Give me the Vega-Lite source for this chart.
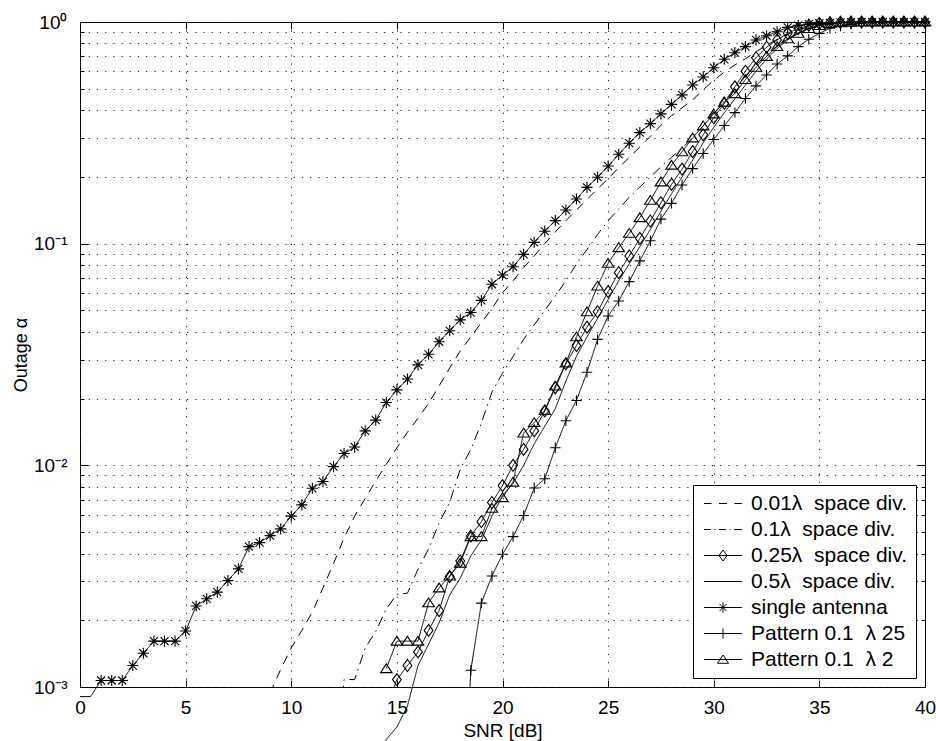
{
  "$schema": "https://vega.github.io/schema/vega-lite/v6.json",
  "width": 845,
  "height": 665,
  "autosize": {"type": "none"},
  "padding": {"left": 80, "top": 22, "right": 11, "bottom": 54},
  "background": "white",
  "config": {
    "view": {"stroke": "black", "strokeWidth": 1},
    "font": "Liberation Sans",
    "axis": {"labelFont": "Liberation Sans", "titleFont": "Liberation Sans", "labelColor": "black", "titleColor": "black", "tickColor": "black", "domain": false, "labelOverlap": false, "labelBound": false, "labelFlush": false},
    "legend": {
      "orient": "bottom-right", "offset": 9, "padding": 8,
      "strokeColor": "black", "fillColor": "white",
      "labelFont": "Liberation Sans", "labelFontSize": 21, "labelColor": "black",
      "symbolSize": 400, "symbolStrokeWidth": 1, "symbolStrokeColor": "black", "symbolFillColor": "transparent",
      "symbolOpacity": 1, "symbolOffset": 11.5, "labelOffset": 17.5, "rowPadding": 4
    }
  },
  "data": {"values": [
    {"s":"A","x":9,"y":0.00094},{"s":"A","x":9.5,"y":0.0012},{"s":"A","x":10,"y":0.0015},{"s":"A","x":10.5,"y":0.0018},{"s":"A","x":11,"y":0.00218},{"s":"A","x":11.5,"y":0.0028},{"s":"A","x":12,"y":0.0036},{"s":"A","x":12.5,"y":0.0047},{"s":"A","x":13,"y":0.0059},{"s":"A","x":13.5,"y":0.0071},{"s":"A","x":14,"y":0.0085},{"s":"A","x":14.5,"y":0.0101},{"s":"A","x":15,"y":0.012},{"s":"A","x":15.5,"y":0.0141},{"s":"A","x":16,"y":0.0163},{"s":"A","x":16.5,"y":0.019},{"s":"A","x":17,"y":0.0228},{"s":"A","x":17.5,"y":0.0275},{"s":"A","x":18,"y":0.0328},{"s":"A","x":18.5,"y":0.038},{"s":"A","x":19,"y":0.044},{"s":"A","x":19.5,"y":0.051},{"s":"A","x":20,"y":0.06},{"s":"A","x":20.5,"y":0.068},{"s":"A","x":21,"y":0.078},{"s":"A","x":21.5,"y":0.088},{"s":"A","x":22,"y":0.1},{"s":"A","x":22.5,"y":0.113},{"s":"A","x":23,"y":0.127},{"s":"A","x":23.5,"y":0.142},{"s":"A","x":24,"y":0.158},{"s":"A","x":24.5,"y":0.177},{"s":"A","x":25,"y":0.196},{"s":"A","x":25.5,"y":0.22},{"s":"A","x":26,"y":0.245},{"s":"A","x":26.5,"y":0.273},{"s":"A","x":27,"y":0.305},{"s":"A","x":27.5,"y":0.342},{"s":"A","x":28,"y":0.378},{"s":"A","x":28.5,"y":0.41},{"s":"A","x":29,"y":0.445},{"s":"A","x":29.5,"y":0.495},{"s":"A","x":30,"y":0.545},{"s":"A","x":30.5,"y":0.595},{"s":"A","x":31,"y":0.64},{"s":"A","x":31.5,"y":0.683},{"s":"A","x":32,"y":0.735},{"s":"A","x":32.5,"y":0.785},{"s":"A","x":33,"y":0.835},{"s":"A","x":33.5,"y":0.88},{"s":"A","x":34,"y":0.92},{"s":"A","x":34.5,"y":0.95},{"s":"A","x":35,"y":0.97},{"s":"A","x":35.5,"y":0.985},{"s":"A","x":36,"y":0.993},{"s":"A","x":36.5,"y":0.997},{"s":"A","x":37,"y":1},{"s":"A","x":38,"y":1},{"s":"A","x":39,"y":1},{"s":"A","x":40,"y":1},

    {"s":"B","x":12,"y":0.0003},{"s":"B","x":12.5,"y":0.00108},{"s":"B","x":13,"y":0.00108},{"s":"B","x":13.5,"y":0.0015},{"s":"B","x":14,"y":0.00178},{"s":"B","x":14.5,"y":0.00225},{"s":"B","x":15,"y":0.00262},{"s":"B","x":15.5,"y":0.00265},{"s":"B","x":16,"y":0.0034},{"s":"B","x":16.5,"y":0.0042},{"s":"B","x":17,"y":0.0055},{"s":"B","x":17.5,"y":0.0068},{"s":"B","x":18,"y":0.0096},{"s":"B","x":18.5,"y":0.0118},{"s":"B","x":19,"y":0.0155},{"s":"B","x":19.5,"y":0.0214},{"s":"B","x":20,"y":0.026},{"s":"B","x":20.5,"y":0.031},{"s":"B","x":21,"y":0.037},{"s":"B","x":21.5,"y":0.043},{"s":"B","x":22,"y":0.05},{"s":"B","x":22.5,"y":0.058},{"s":"B","x":23,"y":0.068},{"s":"B","x":23.5,"y":0.081},{"s":"B","x":24,"y":0.094},{"s":"B","x":24.5,"y":0.11},{"s":"B","x":25,"y":0.127},{"s":"B","x":25.5,"y":0.143},{"s":"B","x":26,"y":0.162},{"s":"B","x":26.5,"y":0.18},{"s":"B","x":27,"y":0.2},{"s":"B","x":27.5,"y":0.222},{"s":"B","x":28,"y":0.245},{"s":"B","x":28.5,"y":0.27},{"s":"B","x":29,"y":0.3},{"s":"B","x":29.5,"y":0.34},{"s":"B","x":30,"y":0.385},{"s":"B","x":30.5,"y":0.44},{"s":"B","x":31,"y":0.5},{"s":"B","x":31.5,"y":0.57},{"s":"B","x":32,"y":0.64},{"s":"B","x":32.5,"y":0.71},{"s":"B","x":33,"y":0.78},{"s":"B","x":33.5,"y":0.84},{"s":"B","x":34,"y":0.89},{"s":"B","x":34.5,"y":0.93},{"s":"B","x":35,"y":0.96},{"s":"B","x":35.5,"y":0.98},{"s":"B","x":36,"y":0.99},{"s":"B","x":36.5,"y":0.996},{"s":"B","x":37,"y":1},{"s":"B","x":38,"y":1},{"s":"B","x":39,"y":1},{"s":"B","x":40,"y":1},

    {"s":"C","x":14.5,"y":0.0008},{"s":"C","x":15,"y":0.00108},{"s":"C","x":15.5,"y":0.00125},{"s":"C","x":16,"y":0.00144},{"s":"C","x":16.5,"y":0.0018},{"s":"C","x":17,"y":0.00221},{"s":"C","x":17.5,"y":0.00315},{"s":"C","x":18,"y":0.0037},{"s":"C","x":18.5,"y":0.0048},{"s":"C","x":19,"y":0.00557},{"s":"C","x":19.5,"y":0.0068},{"s":"C","x":20,"y":0.0081},{"s":"C","x":20.5,"y":0.01},{"s":"C","x":21,"y":0.0118},{"s":"C","x":21.5,"y":0.0143},{"s":"C","x":22,"y":0.0176},{"s":"C","x":22.5,"y":0.0224},{"s":"C","x":23,"y":0.0287},{"s":"C","x":23.5,"y":0.0347},{"s":"C","x":24,"y":0.042},{"s":"C","x":24.5,"y":0.0493},{"s":"C","x":25,"y":0.0608},{"s":"C","x":25.5,"y":0.074},{"s":"C","x":26,"y":0.088},{"s":"C","x":26.5,"y":0.1057},{"s":"C","x":27,"y":0.1265},{"s":"C","x":27.5,"y":0.153},{"s":"C","x":28,"y":0.185},{"s":"C","x":28.5,"y":0.217},{"s":"C","x":29,"y":0.26},{"s":"C","x":29.5,"y":0.31},{"s":"C","x":30,"y":0.37},{"s":"C","x":30.5,"y":0.43},{"s":"C","x":31,"y":0.51},{"s":"C","x":31.5,"y":0.6},{"s":"C","x":32,"y":0.69},{"s":"C","x":32.5,"y":0.77},{"s":"C","x":33,"y":0.83},{"s":"C","x":33.5,"y":0.89},{"s":"C","x":34,"y":0.935},{"s":"C","x":34.5,"y":0.965},{"s":"C","x":35,"y":0.985},{"s":"C","x":35.5,"y":0.993},{"s":"C","x":36,"y":0.997},{"s":"C","x":36.5,"y":1},{"s":"C","x":37,"y":1},{"s":"C","x":37.5,"y":1},{"s":"C","x":38,"y":1},{"s":"C","x":38.5,"y":1},{"s":"C","x":39,"y":1},{"s":"C","x":39.5,"y":1},{"s":"C","x":40,"y":1},

    {"s":"D","x":14,"y":0.00045},{"s":"D","x":14.5,"y":0.00058},{"s":"D","x":15,"y":0.00066},{"s":"D","x":15.5,"y":0.00082},{"s":"D","x":16,"y":0.00125},{"s":"D","x":16.5,"y":0.00156},{"s":"D","x":17,"y":0.00195},{"s":"D","x":17.5,"y":0.0026},{"s":"D","x":18,"y":0.0031},{"s":"D","x":18.5,"y":0.0039},{"s":"D","x":19,"y":0.0046},{"s":"D","x":19.5,"y":0.0059},{"s":"D","x":20,"y":0.0073},{"s":"D","x":20.5,"y":0.0083},{"s":"D","x":21,"y":0.01},{"s":"D","x":21.5,"y":0.0125},{"s":"D","x":22,"y":0.015},{"s":"D","x":22.5,"y":0.018},{"s":"D","x":23,"y":0.024},{"s":"D","x":23.5,"y":0.031},{"s":"D","x":24,"y":0.038},{"s":"D","x":24.5,"y":0.046},{"s":"D","x":25,"y":0.056},{"s":"D","x":25.5,"y":0.068},{"s":"D","x":26,"y":0.081},{"s":"D","x":26.5,"y":0.097},{"s":"D","x":27,"y":0.116},{"s":"D","x":27.5,"y":0.14},{"s":"D","x":28,"y":0.168},{"s":"D","x":28.5,"y":0.2},{"s":"D","x":29,"y":0.238},{"s":"D","x":29.5,"y":0.285},{"s":"D","x":30,"y":0.335},{"s":"D","x":30.5,"y":0.39},{"s":"D","x":31,"y":0.45},{"s":"D","x":31.5,"y":0.52},{"s":"D","x":32,"y":0.6},{"s":"D","x":32.5,"y":0.68},{"s":"D","x":33,"y":0.76},{"s":"D","x":33.5,"y":0.83},{"s":"D","x":34,"y":0.89},{"s":"D","x":34.5,"y":0.935},{"s":"D","x":35,"y":0.965},{"s":"D","x":35.5,"y":0.985},{"s":"D","x":36,"y":0.995},{"s":"D","x":37,"y":1},{"s":"D","x":38,"y":1},{"s":"D","x":39,"y":1},{"s":"D","x":40,"y":1},

    {"s":"E","x":0,"y":0.000905},{"s":"E","x":0.5,"y":0.000905},{"s":"E","x":1,"y":0.00107},{"s":"E","x":1.5,"y":0.00107},{"s":"E","x":2,"y":0.00107},{"s":"E","x":2.5,"y":0.00125},{"s":"E","x":3,"y":0.00142},{"s":"E","x":3.5,"y":0.00161},{"s":"E","x":4,"y":0.00161},{"s":"E","x":4.5,"y":0.00161},{"s":"E","x":5,"y":0.00179},{"s":"E","x":5.5,"y":0.00232},{"s":"E","x":6,"y":0.0025},{"s":"E","x":6.5,"y":0.00268},{"s":"E","x":7,"y":0.00302},{"s":"E","x":7.5,"y":0.00341},{"s":"E","x":8,"y":0.0043},{"s":"E","x":8.5,"y":0.00448},{"s":"E","x":9,"y":0.00482},{"s":"E","x":9.5,"y":0.00517},{"s":"E","x":10,"y":0.0059},{"s":"E","x":10.5,"y":0.00663},{"s":"E","x":11,"y":0.00788},{"s":"E","x":11.5,"y":0.00845},{"s":"E","x":12,"y":0.00987},{"s":"E","x":12.5,"y":0.0113},{"s":"E","x":13,"y":0.0121},{"s":"E","x":13.5,"y":0.0143},{"s":"E","x":14,"y":0.016},{"s":"E","x":14.5,"y":0.0192},{"s":"E","x":15,"y":0.0219},{"s":"E","x":15.5,"y":0.0245},{"s":"E","x":16,"y":0.0284},{"s":"E","x":16.5,"y":0.0317},{"s":"E","x":17,"y":0.0361},{"s":"E","x":17.5,"y":0.0405},{"s":"E","x":18,"y":0.0453},{"s":"E","x":18.5,"y":0.0489},{"s":"E","x":19,"y":0.0555},{"s":"E","x":19.5,"y":0.0656},{"s":"E","x":20,"y":0.0722},{"s":"E","x":20.5,"y":0.0787},{"s":"E","x":21,"y":0.0895},{"s":"E","x":21.5,"y":0.1014},{"s":"E","x":22,"y":0.1138},{"s":"E","x":22.5,"y":0.127},{"s":"E","x":23,"y":0.1419},{"s":"E","x":23.5,"y":0.159},{"s":"E","x":24,"y":0.1795},{"s":"E","x":24.5,"y":0.1994},{"s":"E","x":25,"y":0.224},{"s":"E","x":25.5,"y":0.253},{"s":"E","x":26,"y":0.284},{"s":"E","x":26.5,"y":0.317},{"s":"E","x":27,"y":0.348},{"s":"E","x":27.5,"y":0.385},{"s":"E","x":28,"y":0.425},{"s":"E","x":28.5,"y":0.469},{"s":"E","x":29,"y":0.52},{"s":"E","x":29.5,"y":0.565},{"s":"E","x":30,"y":0.622},{"s":"E","x":30.5,"y":0.679},{"s":"E","x":31,"y":0.727},{"s":"E","x":31.5,"y":0.774},{"s":"E","x":32,"y":0.83},{"s":"E","x":32.5,"y":0.867},{"s":"E","x":33,"y":0.904},{"s":"E","x":33.5,"y":0.946},{"s":"E","x":34,"y":0.966},{"s":"E","x":34.5,"y":0.978},{"s":"E","x":35,"y":0.987},{"s":"E","x":35.5,"y":0.992},{"s":"E","x":36,"y":0.996},{"s":"E","x":36.5,"y":0.998},{"s":"E","x":37,"y":1},{"s":"E","x":37.5,"y":1},{"s":"E","x":38,"y":1},{"s":"E","x":38.5,"y":1},{"s":"E","x":39,"y":1},{"s":"E","x":39.5,"y":1},{"s":"E","x":40,"y":1},

    {"s":"F","x":18,"y":0.00015},{"s":"F","x":18.5,"y":0.00119},{"s":"F","x":19,"y":0.00239},{"s":"F","x":19.5,"y":0.00317},{"s":"F","x":20,"y":0.00397},{"s":"F","x":20.5,"y":0.00477},{"s":"F","x":21,"y":0.00594},{"s":"F","x":21.5,"y":0.0079},{"s":"F","x":22,"y":0.0087},{"s":"F","x":22.5,"y":0.012},{"s":"F","x":23,"y":0.0159},{"s":"F","x":23.5,"y":0.0196},{"s":"F","x":24,"y":0.0263},{"s":"F","x":24.5,"y":0.037},{"s":"F","x":25,"y":0.0472},{"s":"F","x":25.5,"y":0.0551},{"s":"F","x":26,"y":0.0674},{"s":"F","x":26.5,"y":0.0836},{"s":"F","x":27,"y":0.103},{"s":"F","x":27.5,"y":0.129},{"s":"F","x":28,"y":0.152},{"s":"F","x":28.5,"y":0.184},{"s":"F","x":29,"y":0.218},{"s":"F","x":29.5,"y":0.255},{"s":"F","x":30,"y":0.295},{"s":"F","x":30.5,"y":0.341},{"s":"F","x":31,"y":0.39},{"s":"F","x":31.5,"y":0.452},{"s":"F","x":32,"y":0.515},{"s":"F","x":32.5,"y":0.577},{"s":"F","x":33,"y":0.646},{"s":"F","x":33.5,"y":0.703},{"s":"F","x":34,"y":0.774},{"s":"F","x":34.5,"y":0.836},{"s":"F","x":35,"y":0.889},{"s":"F","x":35.5,"y":0.937},{"s":"F","x":36,"y":0.96},{"s":"F","x":36.5,"y":0.978},{"s":"F","x":37,"y":0.99},{"s":"F","x":37.5,"y":0.995},{"s":"F","x":38,"y":1},{"s":"F","x":38.5,"y":1},{"s":"F","x":39,"y":1},{"s":"F","x":39.5,"y":1},{"s":"F","x":40,"y":1},

    {"s":"G","x":14.5,"y":0.00121},{"s":"G","x":15,"y":0.00161},{"s":"G","x":15.5,"y":0.00161},{"s":"G","x":16,"y":0.00161},{"s":"G","x":16.5,"y":0.0024},{"s":"G","x":17,"y":0.0028},{"s":"G","x":17.5,"y":0.00317},{"s":"G","x":18,"y":0.00362},{"s":"G","x":18.5,"y":0.00477},{"s":"G","x":19,"y":0.00477},{"s":"G","x":19.5,"y":0.0064},{"s":"G","x":20,"y":0.00715},{"s":"G","x":20.5,"y":0.0084},{"s":"G","x":21,"y":0.014},{"s":"G","x":21.5,"y":0.0156},{"s":"G","x":22,"y":0.0177},{"s":"G","x":22.5,"y":0.0228},{"s":"G","x":23,"y":0.029},{"s":"G","x":23.5,"y":0.038},{"s":"G","x":24,"y":0.0493},{"s":"G","x":24.5,"y":0.0644},{"s":"G","x":25,"y":0.0816},{"s":"G","x":25.5,"y":0.096},{"s":"G","x":26,"y":0.1114},{"s":"G","x":26.5,"y":0.131},{"s":"G","x":27,"y":0.157},{"s":"G","x":27.5,"y":0.19},{"s":"G","x":28,"y":0.226},{"s":"G","x":28.5,"y":0.26},{"s":"G","x":29,"y":0.3},{"s":"G","x":29.5,"y":0.34},{"s":"G","x":30,"y":0.385},{"s":"G","x":30.5,"y":0.435},{"s":"G","x":31,"y":0.475},{"s":"G","x":31.5,"y":0.55},{"s":"G","x":32,"y":0.625},{"s":"G","x":32.5,"y":0.7},{"s":"G","x":33,"y":0.775},{"s":"G","x":33.5,"y":0.84},{"s":"G","x":34,"y":0.89},{"s":"G","x":34.5,"y":0.935},{"s":"G","x":35,"y":0.965},{"s":"G","x":35.5,"y":0.985},{"s":"G","x":36,"y":0.993},{"s":"G","x":36.5,"y":0.997},{"s":"G","x":37,"y":1},{"s":"G","x":37.5,"y":1},{"s":"G","x":38,"y":1},{"s":"G","x":38.5,"y":1},{"s":"G","x":39,"y":1},{"s":"G","x":39.5,"y":1},{"s":"G","x":40,"y":1}
  ]},
  "layer": [
    {
      "transform": [{"filter": {"field": "s", "oneOf": ["A", "B", "C", "F", "G"]}}],
      "mark": {"type": "line", "clip": true, "color": "black", "strokeWidth": 1},
      "encoding": {
        "x": {"field": "x", "type": "quantitative", "scale": {"domain": [0, 40], "nice": false, "zero": false},
          "axis": {"orient": "bottom", "values": [0, 5, 10, 15, 20, 25, 30, 35, 40], "grid": true, "gridDash": [1.2, 7], "gridColor": "#222", "gridWidth": 1,
            "tickSize": -7, "labelFontSize": 19, "labelPadding": 18, "title": "SNR [dB]", "titleFontSize": 19, "titleFontWeight": "normal", "titlePadding": 4}},
        "y": {"field": "y", "type": "quantitative", "scale": {"type": "log", "domain": [0.001, 1], "nice": false},
          "axis": {"orient": "left", "values": [0.001, 0.002, 0.003, 0.004, 0.005, 0.006, 0.007, 0.008, 0.009, 0.01, 0.02, 0.03, 0.04, 0.05, 0.06, 0.07, 0.08, 0.09, 0.1, 0.2, 0.3, 0.4, 0.5, 0.6, 0.7, 0.8, 0.9, 1],
            "labelExpr": "datum.value == 1 ? '10⁰' : datum.value == 0.1 ? '10⁻¹' : datum.value == 0.01 ? '10⁻²' : datum.value == 0.001 ? '10⁻³' : ''",
            "grid": true, "gridDash": [1.2, 7], "gridColor": "#222", "gridWidth": 1,
            "tickSize": {"condition": {"test": "datum.value == 1 || datum.value == 0.1 || datum.value == 0.01 || datum.value == 0.001", "value": -8}, "value": -4},
            "labelFontSize": 19, "labelPadding": 21, "title": "Outage α", "titleFontSize": 18, "titleFontWeight": "normal", "titlePadding": 3}},
        "strokeDash": {"field": "s", "type": "nominal", "legend": null,
          "scale": {"domain": ["A", "B", "C", "D", "E", "F", "G"], "range": [[9, 7], [10, 5, 1.5, 5], [1, 0], [1, 0], [1, 0], [1, 0], [1, 0]]}}
      }
    },
    {
      "transform": [{"filter": {"field": "s", "oneOf": ["D", "E"]}}],
      "mark": {"type": "line", "clip": false, "color": "black", "strokeWidth": 1},
      "encoding": {
        "x": {"field": "x", "type": "quantitative",
          "axis": {"orient": "top", "values": [0, 5, 10, 15, 20, 25, 30, 35, 40], "labels": false, "grid": false, "tickSize": -7, "title": null}},
        "y": {"field": "y", "type": "quantitative",
          "axis": {"orient": "right", "values": [0.001, 0.002, 0.003, 0.004, 0.005, 0.006, 0.007, 0.008, 0.009, 0.01, 0.02, 0.03, 0.04, 0.05, 0.06, 0.07, 0.08, 0.09, 0.1, 0.2, 0.3, 0.4, 0.5, 0.6, 0.7, 0.8, 0.9, 1],
            "labels": false, "grid": false, "title": null,
            "tickSize": {"condition": {"test": "datum.value == 1 || datum.value == 0.1 || datum.value == 0.01 || datum.value == 0.001", "value": -8}, "value": -4}}},
        "strokeDash": {"field": "s", "type": "nominal", "legend": null}
      }
    },
    {
      "transform": [{"filter": {"field": "s", "oneOf": ["C", "E", "F", "G"]}}, {"filter": {"field": "y", "gte": 0.001}}],
      "mark": {"type": "point", "clip": false, "filled": false, "color": "black", "strokeWidth": 1.1, "size": 256, "opacity": 1},
      "encoding": {
        "x": {"field": "x", "type": "quantitative", "axis": null},
        "y": {"field": "y", "type": "quantitative", "axis": null},
        "shape": {"field": "s", "type": "nominal", "legend": null,
          "scale": {"domain": ["C", "E", "F", "G"], "range": [
            "M0,-0.75L0.55,0L0,0.75L-0.55,0Z",
            "M-0.7,0H0.7M0,-0.7V0.7M-0.5,-0.5L0.5,0.5M-0.5,0.5L0.5,-0.5",
            "M-0.65,0H0.65M0,-0.65V0.65",
            "M0,-0.6L0.72,0.5L-0.72,0.5Z"]}}
      }
    },
    {
      "mark": {"type": "point", "filled": false, "color": "black", "opacity": 0, "size": 400},
      "encoding": {
        "x": {"field": "x", "type": "quantitative", "axis": null},
        "y": {"field": "y", "type": "quantitative", "axis": null},
        "shape": {"field": "s", "type": "nominal",
          "scale": {"domain": ["A", "B", "C", "D", "E", "F", "G"], "range": [
            "M-1.9,0H-1.15M-0.4,0H0.4M1.15,0H1.9",
            "M-1.9,0H-1.2M-0.85,0H-0.75M-0.4,0H0.3M0.65,0H0.75M1.1,0H1.9",
            "M-1.9,0H1.9M0,-0.55L0.4,0L0,0.55L-0.4,0Z",
            "M-1.9,0H1.9",
            "M-1.9,0H1.9M0,-0.5V0.5M-0.35,-0.35L0.35,0.35M-0.35,0.35L0.35,-0.35",
            "M-1.9,0H1.9M0,-0.5V0.5",
            "M-1.9,0H1.9M0,-0.45L0.55,0.38L-0.55,0.38Z"]},
          "legend": {"title": null,
            "labelExpr": "datum.label == 'A' ? '0.01λ\u00a0 space div.' : datum.label == 'B' ? '0.1λ\u00a0 space div.' : datum.label == 'C' ? '0.25λ\u00a0 space div.' : datum.label == 'D' ? '0.5λ\u00a0 space div.' : datum.label == 'E' ? 'single antenna' : datum.label == 'F' ? 'Pattern 0.1\u00a0 λ 25' : 'Pattern 0.1\u00a0 λ 2'",
            "encode": {"symbols": {"update": {"opacity": {"value": 1}, "stroke": {"value": "black"}, "fill": {"value": "transparent"}, "strokeWidth": {"value": 1}}}}}}
      }
    }
  ],
  "resolve": {"axis": {"x": "independent", "y": "independent"}, "scale": {"shape": "independent"}, "legend": {"shape": "independent"}}
}
